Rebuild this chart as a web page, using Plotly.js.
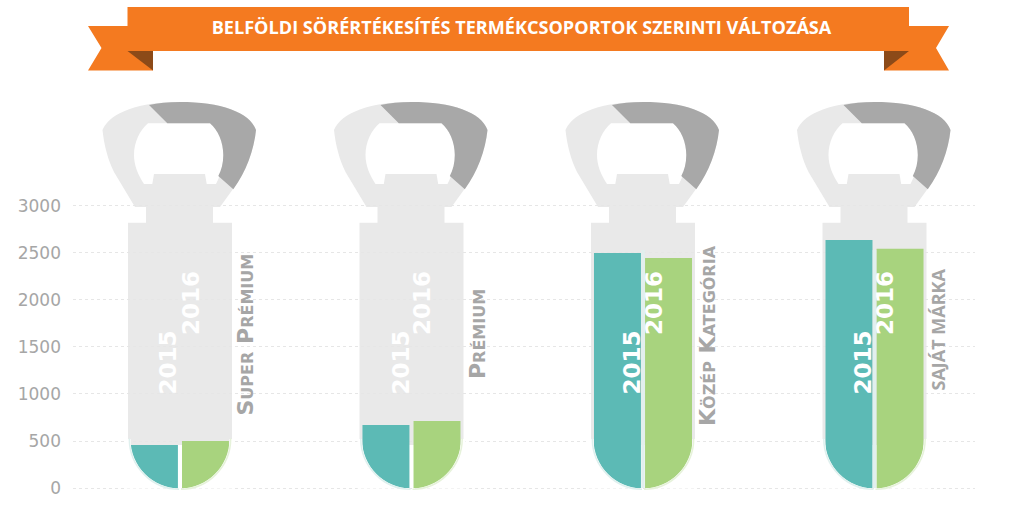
<!DOCTYPE html>
<html><head><meta charset="utf-8">
<script src="https://cdn.plot.ly/plotly-3.0.1.min.js"></script>
<style>html,body{margin:0;padding:0;background:#fff}</style></head>
<body><div id="chart" style="width:1024px;height:513px"></div>
<script>
const titleText = "BELFÖLDI SÖRÉRTÉKESÍTÉS TERMÉKCSOPORTOK SZERINTI VÁLTOZÁSA";
const categories = ["Super Prémium", "Prémium", "Közép Kategória", "Saját Márka"];
const values2015 = [457, 670, 2500, 2638];
const values2016 = [500, 713, 2447, 2543];
const seriesNames = ["2015", "2016"];
const tickValues = [0, 500, 1000, 1500, 2000, 2500, 3000];

const W = 1024, H = 513, L = 73, R = 975, T = 204, B = 490;
const px = (x) => ((x - L) / (R - L)).toFixed(5);
const py = (y) => ((B - y) / (B - T)).toFixed(5);
const P = (x, y) => px(x) + "," + py(y);
const path = (cmds) => cmds.map(c => c[0] + c.slice(1).map(p => P(p[0], p[1])).join(" ")).join(" ");
const shape = (d, fill, layer, line) => ({type: "path", xref: "paper", yref: "paper", path: d, fillcolor: fill,
  layer: layer || "below", line: line || {width: 0}});

const ORANGE = "#f47a20", DARK = "#8c4a18", LIGHT = "#e9e9e9", MID = "#a8a8a8";
const shapes = [];

// ribbon
shapes.push(shape(path([["M",[88,26]],["L",[153,26]],["L",[153,70.5]],["L",[88,70.5]],["L",[101.5,48]],["Z"]]), ORANGE));
shapes.push(shape(path([["M",[949,26]],["L",[884,26]],["L",[884,70.5]],["L",[949,70.5]],["L",[936,48]],["Z"]]), ORANGE));
shapes.push(shape(path([["M",[127.5,7]],["L",[909,7]],["L",[909,51]],["L",[127.5,51]],["Z"]]), ORANGE));
shapes.push(shape(path([["M",[127.5,51]],["L",[153,51]],["L",[153,70.5]],["Z"]]), DARK));
shapes.push(shape(path([["M",[909,51]],["L",[884,51]],["L",[884,70.5]],["Z"]]), DARK));

// bottle openers
const centers = [180, 411.5, 643, 874.5];
const CY = 439, RI = 49.5;
centers.forEach((c, idx) => {
  const q = (x, y) => [c + x, y];
  // head and body
  shapes.push(shape(path([
    ["M", q(-45,207)], ["L", q(-66,172)], ["C", q(-72,160), q(-76,145), q(-77.5,130)],
    ["C", q(-70,112), q(-40,102), q(0,102)], ["C", q(40,102), q(70,112), q(76,130)],
    ["C", q(74,150), q(66,172), q(53,189)], ["L", q(40,207)],
    ["L", q(33,207)], ["L", q(33,222.7)], ["L", q(52,222.7)], ["L", q(52,445)],
    ["L", q(-52,445)], ["L", q(-52,222.7)], ["L", q(-34,222.7)], ["L", q(-34,207)], ["Z"]
  ]), LIGHT));
  // opening
  shapes.push(shape(path([
    ["M", q(-32,123.3)], ["L", q(30,123.3)], ["C", q(38,130), q(43.3,142), q(43.3,155)],
    ["C", q(43.3,165), q(41,175), q(36,184)], ["L", q(26.7,184)], ["L", q(25,174)], ["L", q(-26,174)],
    ["L", q(-27.7,184)], ["L", q(-36,184)], ["C", q(-42,175), q(-46,165), q(-46,155)],
    ["C", q(-46,142), q(-40,130), q(-32,123.3)], ["Z"]
  ]), "#ffffff"));
  // dark part
  shapes.push(shape(path([
    ["M", q(-31,105)], ["L", q(-12.7,123.3)], ["L", q(30,123.3)], ["C", q(38,130), q(43.3,142), q(43.3,155)],
    ["C", q(43.3,163), q(41.5,170), q(38.3,176)], ["L", q(53.3,189.3)],
    ["C", q(66,172), q(74,150), q(76,130)], ["C", q(70,112), q(40,102), q(0,102)],
    ["C", q(-12,102), q(-22,103), q(-31,105)], ["Z"]
  ]), MID));
  // rounded bottom: white corners over the bars, then a pale rim
  const k = 0.5523 * RI;
  shapes.push(shape(path([["M", q(-54,CY)], ["L", q(-RI,CY)], ["C", q(-RI,CY+k), q(-k,CY+RI), q(0,CY+RI)], ["L", q(-54,CY+RI)], ["Z"]]), "#ffffff", "above"));
  shapes.push(shape(path([["M", q(54,CY)], ["L", q(RI,CY)], ["C", q(RI,CY+k), q(k,CY+RI), q(0,CY+RI)], ["L", q(54,CY+RI)], ["Z"]]), "#ffffff", "above"));
  const r = 50.7, k2 = 0.5523 * r, by = CY - 0.5;
  shapes.push(shape(path([["M", q(-r,by)], ["C", q(-r,by+k2), q(-k2,by+r), q(-1,by+r)]]), "rgba(0,0,0,0)", "above", {width: 1.5, color: "#dff0ee"}));
  shapes.push(shape(path([["M", q(r,by)], ["C", q(r,by+k2), q(k2,by+r), q(1,by+r)]]), "rgba(0,0,0,0)", "above", {width: 1.5, color: "#e6f2da"}));
  if (idx > 1) shapes.push(shape(path([["M", q(0,250)], ["L", q(0,488)]]), "rgba(0,0,0,0)", "above", {width: 3.5, color: "#e2efee"}));
});

const yearX = [[168, 191], [400, 422], [632, 654], [863, 885]];
const yearY = [362.5, 303];
const annotations = [];
categories.forEach((cat, i) => {
  seriesNames.forEach((name, j) => annotations.push({
    text: name, xref: "paper", yref: "paper", x: +px(yearX[i][j]), y: +py(yearY[j]),
    showarrow: false, textangle: -90, xanchor: "center", yanchor: "middle",
    font: {family: "DejaVu Sans", size: 23, color: "#ffffff", weight: 700}
  }));
});
const labelX = [245.5, 477.5, 708, 938], labelY = [334, 334.5, 335, 329.5];
const smallCaps = (s) => s.split(" ").map(w => w[0] + '<span style="font-size:16px">' + w.slice(1).toUpperCase() + "</span>").join(" ");
categories.forEach((cat, i) => {
  const plainCaps = i === 3;
  annotations.push({
    text: plainCaps ? cat.toUpperCase() : smallCaps(cat), xref: "paper", yref: "paper", x: +px(labelX[i]), y: +py(labelY[i]),
    showarrow: false, textangle: -90, xanchor: "center", yanchor: "middle",
    font: plainCaps ? {family: "Open Sans", size: 18, color: "#a6a6a6", weight: 700}
                    : {family: "DejaVu Sans", size: 22, color: "#a6a6a6", weight: 700}
  });
});

const data = [
  {type: "bar", name: seriesNames[0], x: categories, y: values2015, marker: {color: "#5cbab5"}, hoverinfo: "x+y+name"},
  {type: "bar", name: seriesNames[1], x: categories, y: values2016, marker: {color: "#a8d37e"}, hoverinfo: "x+y+name"}
];
const layout = {
  width: W, height: H, margin: {l: L, r: W - R, t: T, b: H - B, pad: 0},
  paper_bgcolor: "#ffffff", plot_bgcolor: "rgba(0,0,0,0)", showlegend: false,
  barmode: "group", bargap: 0.559, bargroupgap: 0.08,
  title: {text: titleText, x: 521.5 / W, y: 1 - 28 / H, xref: "container", yref: "container", xanchor: "center", yanchor: "middle",
    font: {family: "Open Sans", size: 18.1, color: "#ffffff", weight: 700}},
  xaxis: {type: "category", categoryorder: "array", categoryarray: categories, range: [-0.462, 3.434],
    showticklabels: false, showgrid: false, zeroline: false, ticks: "", showline: false, fixedrange: true},
  yaxis: {range: [-21, 3020], tickmode: "array", tickvals: tickValues, ticks: "", ticklabelstandoff: 11,
    tickfont: {family: "DejaVu Sans", size: 17, color: "#a6a6a6"},
    showgrid: true, gridcolor: "#e6e6e6", griddash: "3px,3px", gridwidth: 1, zeroline: false, showline: false, fixedrange: true},
  shapes, annotations
};
Plotly.newPlot("chart", data, layout, {displayModeBar: false, staticPlot: true});
</script></body></html>
